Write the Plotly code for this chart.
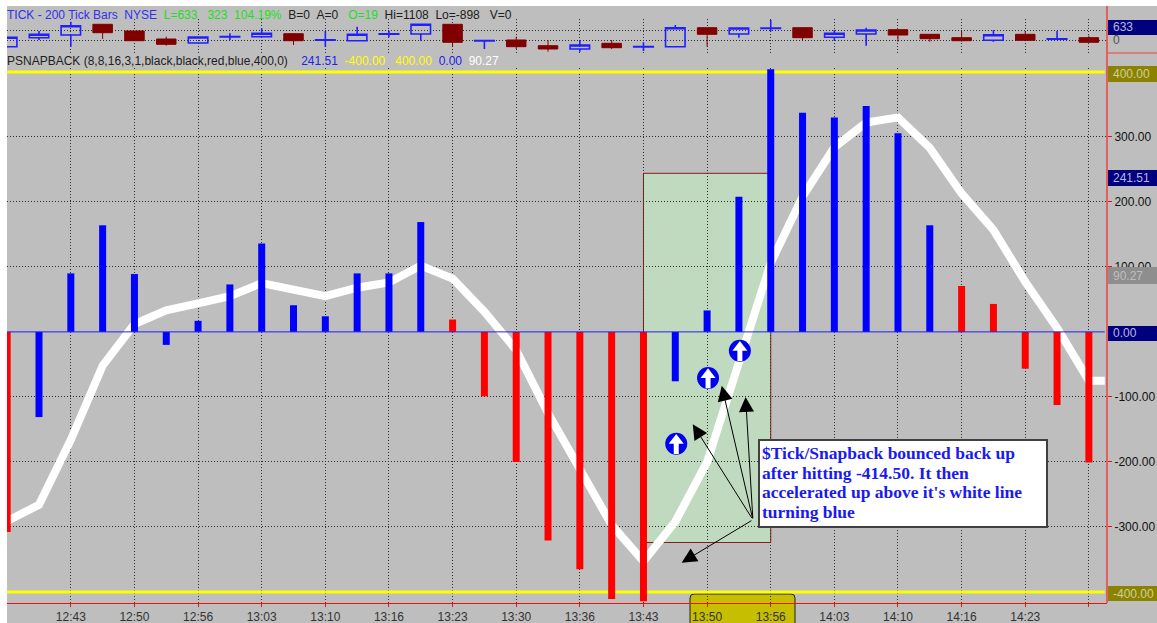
import plotly.graph_objects as go

# ---- data ----
index = list(range(35))
tick_index = [2, 4, 6, 8, 10, 12, 14, 16, 18, 20, 22, 24, 26, 28, 30, 32, 34]
tick_labels = ["12:43", "12:50", "12:56", "13:03", "13:10", "13:16", "13:23", "13:30",
               "13:36", "13:43", "13:50", "13:56", "14:03", "14:10", "14:16", "14:23", ""]
snapback = [-308, -131, 90, 164, 89, -20, 17, 73, 136, 41, 24, 90, 90, 169, 19, -99, -200, -321,
            -365, -411, -414.5, -76, 33, 208, 404, 337, 330, 347.5, 305.5, 164, 70.6, 43, -56.6,
            -112.5, -201]
bar_colors = ["#FF0000"] + ["#0000FF"] * 13 + ["#FF0000"] * 7 + ["#0000FF"] * 9 + ["#FF0000"] * 5
white_x = index + [34.5]
white_line = [-291, -266, -166, -52, 12, 33, 44, 55, 75, 64, 55, 68, 76, 102, 82, 31, -28, -125,
              -213, -297, -353, -292, -200, -48, 106, 208, 284, 322, 330, 283, 213, 157, 77, 6,
              -75, -75]
candle_open = [-469, 161, 350, 1099, 630, 70, -210, 220, 231, 441, -10, -49, 410, 420, 1099, -59, 0,
               -399, -630, -231, -479, -469, 861, 420, 809, 861, 189, 420, 721, 399, 161, -21, 399,
               60, 161]
candle_high = [189, 630, 1281, 1099, 630, 231, 210, 469, 819, 441, 630, 931, 651, 1099, 1108, -39,
               231, 0, 0, 0, -161, 1050, 861, 840, 1400, 861, 700, 861, 721, 399, 630, 700, 630,
               630, 301]
candle_low = [-469, 0, -469, 70, -49, -399, -210, 0, 231, -350, -469, -49, 189, -49, -469, -630,
              -630, -819, -819, -630, -770, -469, -469, 161, 600, -70, -49, -399, -119, -119, -119,
              -119, -21, 0, -161]
candle_close = [189, 399, 1001, 511, -49, -301, 210, 240, 469, -49, 10, 399, 430, 1099, -161, -39,
                -469, -630, -350, -539, -459, 861, 399, 840, 829, 161, 469, 700, 350, 91, -49, 371,
                -21, 80, -161]
right_ticks = [300, 200, 100, -100, -200, -300]
signal_x = [21.03, 22.03, 23.03]
signal_y = [-172, -71, -29]
levels = [400, -400]
zone_x = [20.0, 24.0]
zone_y = [-324, 244]
arrow_from = (23.44, -289)
arrow_to = [(21.55, -142), (22.46, -83), (23.21, -100), (21.2, -355)]
note_lines = ["$Tick/Snapback bounced back up", "after hitting -414.50. It then",
              "accelerated up above it's white line", "turning blue"]

# ---- pixel helpers for layout-only items ----
L, R, T, B = 7, 1107, 6, 603
PW, PH = R - L, B - T
def px(x):
    return (x - L) / PW
def py(y):
    return (B - y) / PH

GRID = dict(showgrid=True, gridcolor="#303030", gridwidth=1, griddash="1px,2px", automargin=False)
XR = [-0.006, 34.57]
YR = [-417.1, 406.0]

fig = go.Figure()

# base layer: level lines and white line
for lv in levels:
    fig.add_trace(go.Scatter(x=[-1, 34.5], y=[lv, lv], mode="lines",
                             line=dict(color="#FFFF00", width=3), hoverinfo="skip"))
fig.add_trace(go.Scatter(x=white_x, y=white_line, mode="lines",
                         line=dict(color="#FFFFFF", width=8), hoverinfo="skip"))

# overlay layer: bars on top of the white line
fig.add_trace(go.Bar(x=index, y=snapback, marker=dict(color=bar_colors, line=dict(width=0)),
                     width=0.22, xaxis="x3", yaxis="y3"))
fig.add_trace(go.Scatter(x=[-1, 34.5], y=[0, 0], mode="lines", line=dict(color="#2020F0", width=1),
                         xaxis="x3", yaxis="y3", hoverinfo="skip"))
fig.add_trace(go.Scatter(x=signal_x, y=signal_y, mode="markers", xaxis="x3", yaxis="y3",
                         marker=dict(symbol="circle", size=22, color="#0000F0")))
fig.add_trace(go.Scatter(x=signal_x, y=[v - 4 for v in signal_y], mode="markers", xaxis="x3", yaxis="y3",
                         marker=dict(symbol="line-ns", size=11, line=dict(color="#FFFFFF", width=5))))
fig.add_trace(go.Scatter(x=signal_x, y=[v + 5 for v in signal_y], mode="markers", xaxis="x3", yaxis="y3",
                         marker=dict(symbol="triangle-up", size=13, color="#FFFFFF")))

# top candle panel
fig.add_trace(go.Candlestick(x=index, open=candle_open, high=candle_high, low=candle_low, close=candle_close,
                             xaxis="x2", yaxis="y2",
                             increasing=dict(line=dict(color="#2020FF", width=1.6), fillcolor="rgba(0,0,0,0)"),
                             decreasing=dict(line=dict(color="#800000", width=1), fillcolor="#800000"),
                             whiskerwidth=0))

shapes = [
    dict(type="rect", xref="paper", yref="paper", x0=0, x1=px(1157), y0=py(623), y1=py(T),
         fillcolor="#BEBEBE", line_width=0, layer="below"),
    dict(type="path", xref="paper", yref="paper", layer="below", fillcolor="#C6BE00",
         line=dict(color="#202020", width=1),
         path=f"M {px(690)} {py(624)} L {px(690)} {py(598)} Q {px(690)} {py(594)} {px(694)} {py(594)} "
              f"L {px(791)} {py(594)} Q {px(795)} {py(594)} {px(795)} {py(598)} L {px(795)} {py(624)} Z"),
    dict(type="rect", xref="x", yref="y", x0=zone_x[0], x1=zone_x[1], y0=zone_y[0], y1=zone_y[1],
         fillcolor="#C0DAC0", line=dict(color="#8B1A1A", width=1), layer="below"),
    dict(type="line", xref="paper", yref="paper", x0=1, x1=1, y0=0, y1=1,
         line=dict(color="#F04040", width=1.5), layer="above"),
    dict(type="line", xref="paper", yref="paper", x0=1, x1=px(1157), y0=py(53), y1=py(53),
         line=dict(color="#F04040", width=1), layer="above"),
    dict(type="rect", xref="paper", yref="paper", x0=px(759), x1=px(1047), y0=py(527), y1=py(440),
         fillcolor="#FFFFFF", line=dict(color="#404040", width=2), layer="above"),
]

annotations = []
boxes = [("633", 20, 35, "#00007F", "#B8B8E0"), ("400.00", 66, 82, "#8B8300", "#CFCF9A"),
         ("241.51", 170, 186, "#00007F", "#B8B8E0"), ("90.27", 267, 284, "#8E8E8E", "#BEBEBE"),
         ("0.00", 326, 341, "#00007F", "#B8B8E0"), ("-400.00", 586, 601, "#8B8300", "#CFCF9A")]
for text, top, bot, bg, fg in boxes:
    shapes.append(dict(type="rect", xref="paper", yref="paper", x0=px(1108), x1=px(1157), y0=py(bot), y1=py(top),
                       fillcolor=bg, line_width=0, layer="above"))
    annotations.append(dict(xref="paper", yref="paper", x=px(1111), y=py((top + bot) / 2), text=text, showarrow=False,
                            xanchor="left", yanchor="middle", font=dict(family="Liberation Sans", size=12, color=fg)))
annotations.append(dict(xref="paper", yref="paper", x=px(1111), y=py(40), text="0", showarrow=False, xanchor="left",
                        yanchor="middle", font=dict(family="Liberation Sans", size=12, color="#505050")))

def c(col, t):
    return f'<span style="color:{col}">{t}</span>'
sp = "\u00a0\u00a0"
row1 = (c("#3030F0", "TICK - 200 Tick Bars" + sp + "NYSE") + sp + c("#20E020", "L=633" + sp + "\u00a0323" + sp + "104.19%") + sp
        + c("#202020", "B=0" + sp + "A=0") + sp + "\u00a0" + c("#20E020", "O=19") + sp + c("#202020", "Hi=1108" + sp + "Lo=-898" + sp + "\u00a0V=0"))
row2 = (c("#202020", "PSNAPBACK (8,8,16,3,1,black,black,red,blue,400,0)") + sp + sp + c("#2020F0", "241.51") + sp
        + c("#FFFF00", "-400.00") + sp + "\u00a0" + c("#FFFF00", "400.00") + sp + c("#2020F0", "0.00") + sp + c("#FFFFFF", "90.27"))
for row, yy in [(row1, 15), (row2, 61)]:
    annotations.append(dict(xref="paper", yref="paper", x=px(5), y=py(yy), text=row, showarrow=False, xanchor="left",
                            yanchor="middle", font=dict(family="Liberation Sans", size=12)))

for tx, ty in arrow_to:
    annotations.append(dict(x=tx, y=ty, ax=arrow_from[0], ay=arrow_from[1], xref="x", yref="y", axref="x", ayref="y",
                            text="", showarrow=True, arrowhead=2, arrowsize=3, arrowwidth=1, arrowcolor="#000000"))
for line, yy in zip(note_lines, [453.3, 472.7, 492.3, 511.7]):
    annotations.append(dict(xref="paper", yref="paper", x=px(760), y=py(yy), xanchor="left", yanchor="middle", text=line,
                            showarrow=False, align="left",
                            font=dict(family="Liberation Serif", size=17.5, color="#1A1AF0", weight="bold")))

fig.update_layout(
    width=1157, height=623, autosize=False, showlegend=False, barmode="overlay", boxgap=0.125,
    margin=dict(l=L, r=1157 - R, t=T, b=623 - B, pad=0),
    paper_bgcolor="#FFFFFF", plot_bgcolor="rgba(0,0,0,0)",
    font=dict(family="Liberation Sans", size=12, color="#333333"),
    xaxis=dict(domain=[0, 1], range=XR, tickmode="array", tickvals=tick_index, ticktext=tick_labels,
               ticks="outside", ticklen=3, tickcolor="#F01010", showline=True, linecolor="#F01010", linewidth=1,
               zeroline=False, anchor="y", rangeslider=dict(visible=False),
               tickfont=dict(size=12, color="#333333"), **GRID),
    yaxis=dict(domain=[0, py(68)], range=YR, side="right", anchor="x", tickmode="array", tickvals=right_ticks,
               ticktext=[f"{v:.2f}" for v in right_ticks], ticks="outside", ticklen=4, tickcolor="#F01010",
               zeroline=False, tickfont=dict(size=12, color="#111111"), **GRID),
    xaxis2=dict(domain=[0, 1], range=XR, anchor="y2", tickmode="array", tickvals=tick_index, showticklabels=False,
                zeroline=False, rangeslider=dict(visible=False), **GRID),
    yaxis2=dict(domain=[py(54), py(19)], range=[-980, 1470], anchor="x2", side="right", tickmode="array",
                tickvals=[0, 633], showticklabels=False, zeroline=False, **GRID),
    xaxis3=dict(overlaying="x", range=XR, visible=False, anchor="y3"),
    yaxis3=dict(overlaying="y", range=YR, visible=False, anchor="x3", side="right"),
    shapes=shapes, annotations=annotations,
)
fig.write_html("out.html", config=dict(displayModeBar=False),
               post_script="document.body.style.margin='0';document.body.style.overflow='hidden';")
